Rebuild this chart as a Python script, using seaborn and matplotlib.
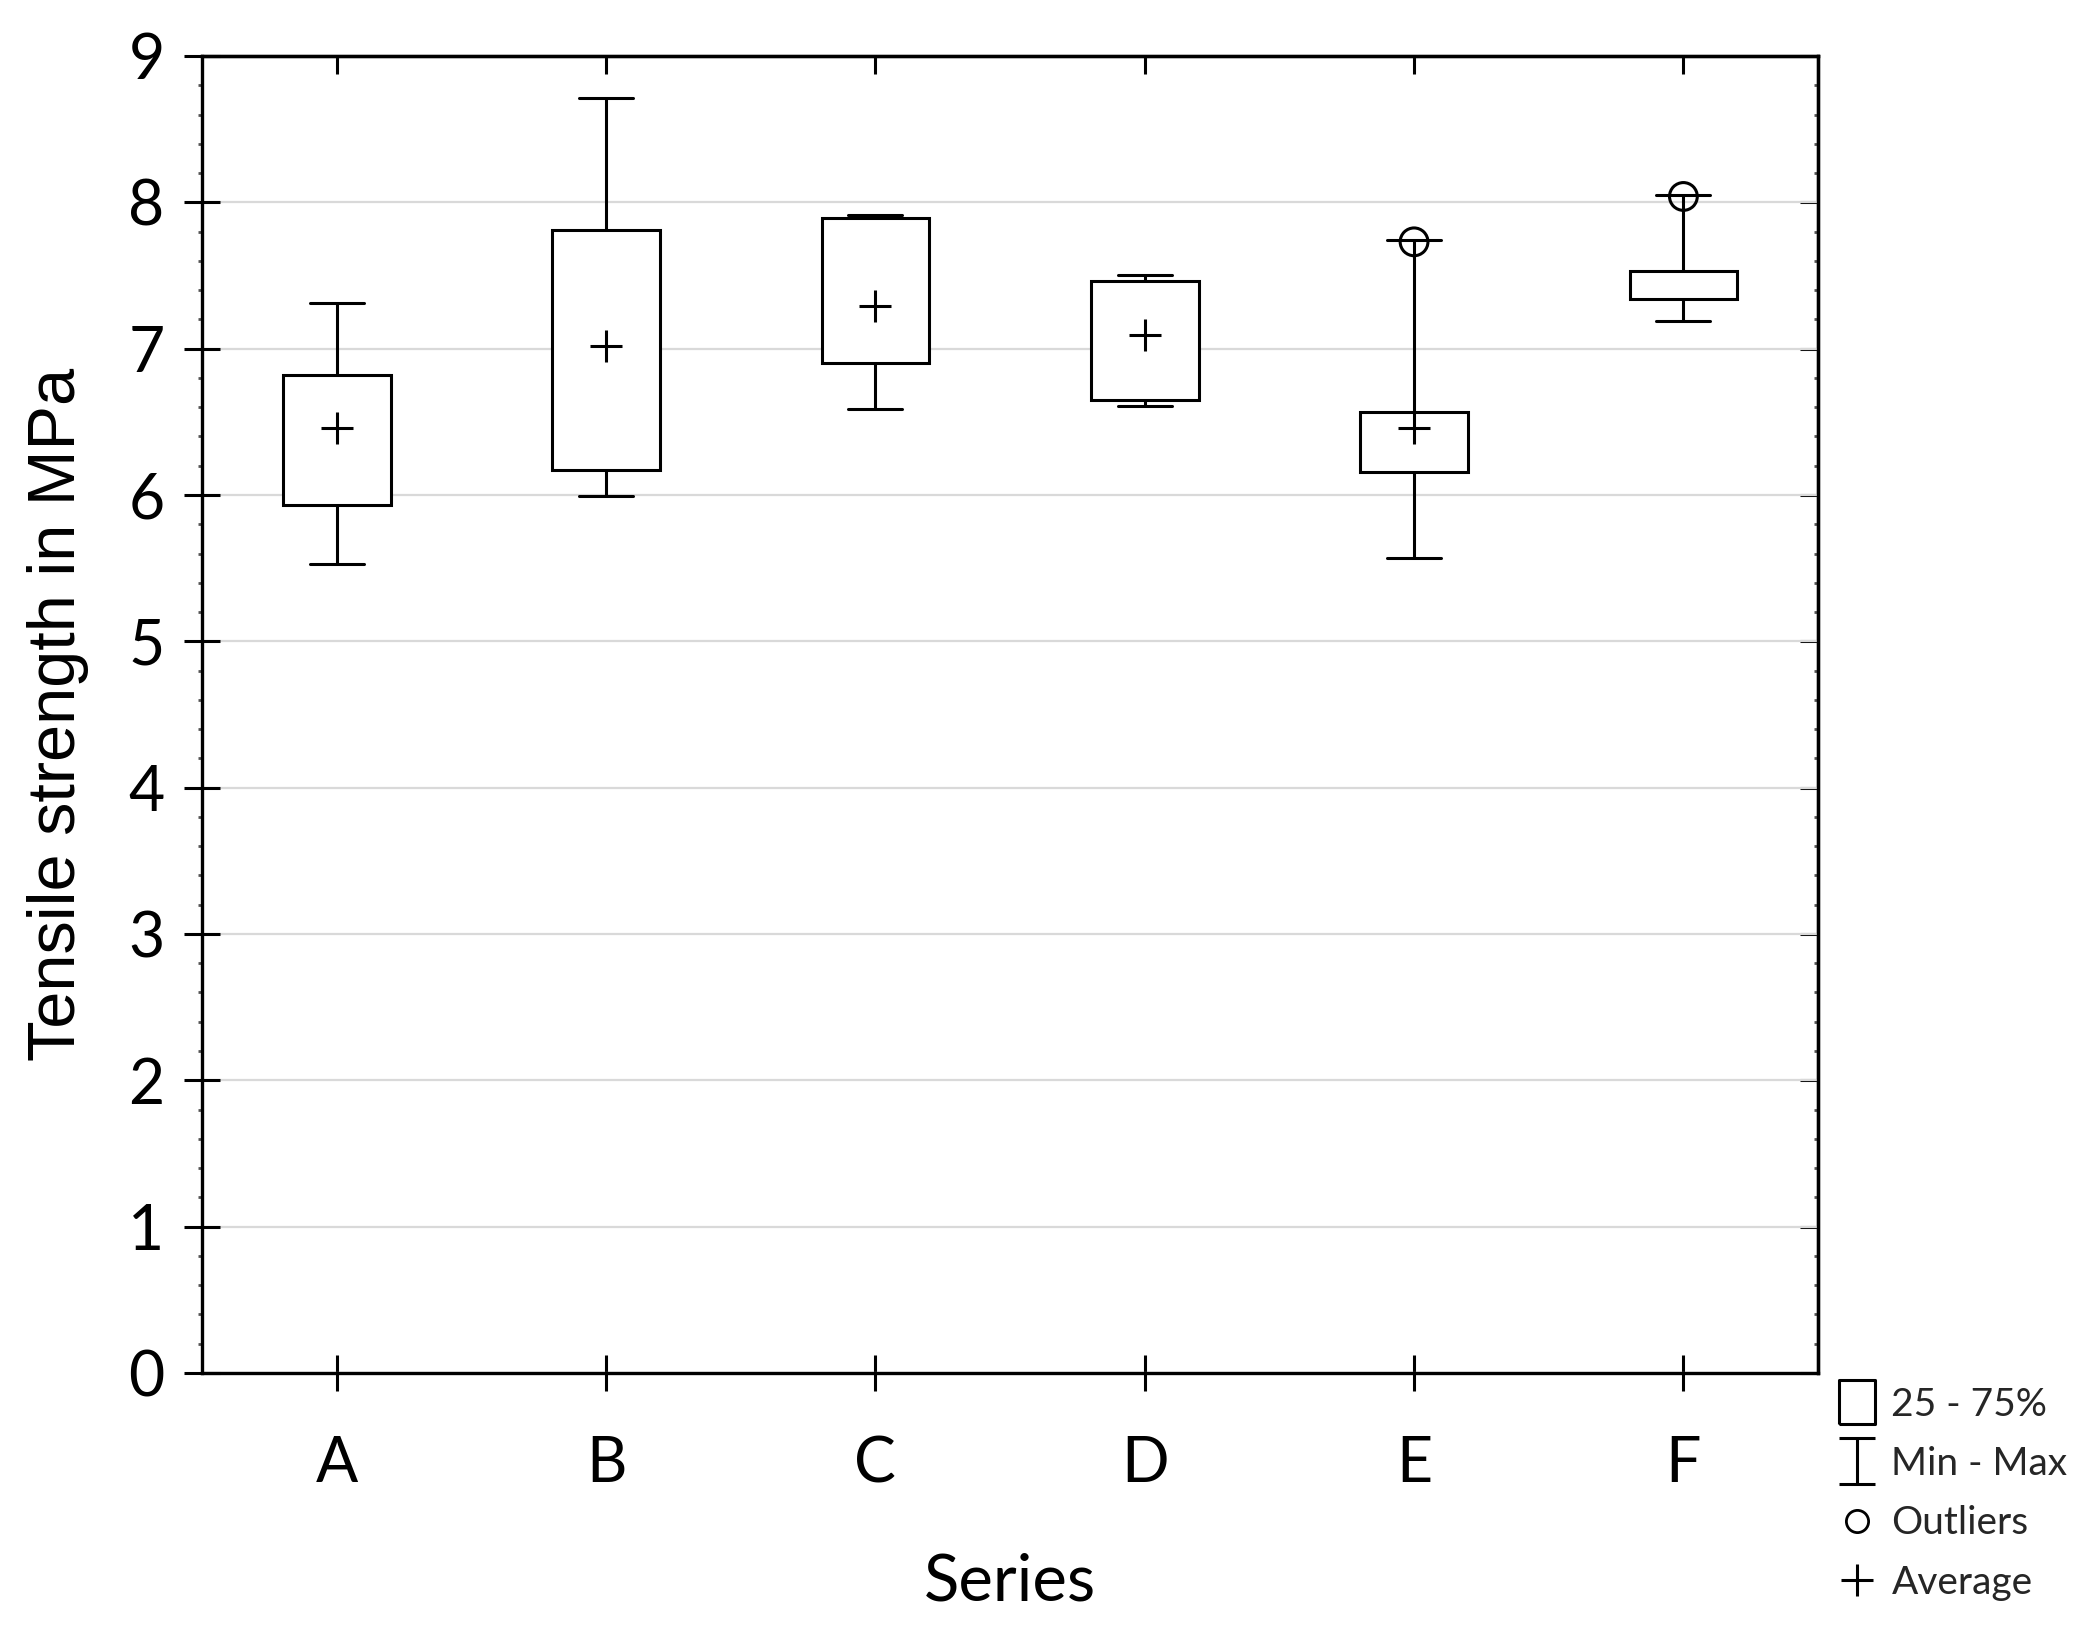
import numpy as np
import matplotlib
matplotlib.use("Agg")
import matplotlib.pyplot as plt
import seaborn as sns
from matplotlib.path import Path
from matplotlib.lines import Line2D
from matplotlib.ticker import MultipleLocator

sns.set_theme(style="ticks")
plt.rcParams['font.family'] = ['Lato', 'DejaVu Sans']

# summary values (MPa)
series = ['A', 'B', 'C', 'D', 'E', 'F']
q1 = [5.93, 6.17, 6.90, 6.65, 6.16, 7.34]
q3 = [6.82, 7.81, 7.89, 7.46, 6.57, 7.53]
mins = [5.53, 5.99, 6.59, 6.61, 5.57, 7.19]
maxs = [7.31, 8.71, 7.91, 7.50, 7.74, 8.05]
means = [6.46, 7.02, 7.29, 7.09, 6.46, np.nan]
outlier_series = [4, 5]
outlier_values = [7.73, 8.04]

pos = np.arange(len(series))
stats = []
for i, s in enumerate(series):
    stats.append(dict(label=s, q1=q1[i], q3=q3[i], med=q1[i],
                      whislo=mins[i], whishi=maxs[i], fliers=[]))

fig = plt.figure(figsize=(20.96, 16.47), dpi=100)
ax = fig.add_axes([0.0964, 0.1664, 0.771, 0.7996])

lw = 2.2
ax.bxp(stats, positions=pos, widths=0.4, capwidths=0.2, patch_artist=True,
       showfliers=False,
       boxprops=dict(facecolor='white', edgecolor='black', linewidth=lw),
       whiskerprops=dict(color='black', linewidth=lw),
       capprops=dict(color='black', linewidth=lw),
       medianprops=dict(linewidth=0))

sns.scatterplot(x=pos, y=means, marker='+', s=530, color='black',
                linewidth=2.2, ax=ax, zorder=5, legend=False)
sns.scatterplot(x=pos[outlier_series], y=outlier_values, marker='o', s=400,
                facecolors='none', edgecolor='black', linewidth=2.2,
                ax=ax, zorder=6, legend=False)

ax.set_xlim(-0.5, 5.5)
ax.set_ylim(0, 9)
ax.set_xticks(pos)
ax.set_xticklabels(series)
ax.yaxis.set_major_locator(MultipleLocator(1))
ax.yaxis.set_minor_locator(MultipleLocator(0.2))
ax.yaxis.grid(True, which='major', color='#d9d9d9', linewidth=1.6)
ax.set_axisbelow(True)

for sp in ax.spines.values():
    sp.set_linewidth(2.4)
    sp.set_color('black')

ax.tick_params(axis='both', which='major', direction='inout', length=26,
               width=2.2, color='black', labelsize=45, labelcolor='black')
ax.tick_params(axis='x', pad=32)
ax.tick_params(axis='y', pad=14)
ax.tick_params(axis='y', which='minor', direction='out', length=3,
               width=2.0, color='#555555')

top = ax.secondary_xaxis('top')
top.set_xticks(pos)
top.set_xticklabels([])
top.tick_params(direction='in', length=13, width=2.2, color='black')
right = ax.secondary_yaxis('right')
right.yaxis.set_major_locator(MultipleLocator(1))
right.yaxis.set_minor_locator(MultipleLocator(0.2))
right.set_yticklabels([])
right.tick_params(which='major', direction='in', length=13, width=2.2, color='black')
right.tick_params(which='minor', direction='in', length=3, width=2.0, color='#555555')
for a in (top, right):
    for sp in a.spines.values():
        sp.set_linewidth(2.4)

ax.set_xlabel('Series', fontsize=47, color='black')
ax.xaxis.set_label_coords(0.5, -0.136)
ax.set_ylabel('Tensile strength in MPa', fontsize=48, color='black',
              family=['Liberation Sans', 'DejaVu Sans'])
ax.yaxis.set_label_coords(-0.07, 0.5)

# legend
rect_marker = Path([(-0.4, -0.5), (0.4, -0.5), (0.4, 0.5), (-0.4, 0.5), (-0.4, -0.5)])
ibar_marker = Path([(-0.4, -0.5), (0.4, -0.5), (0, -0.5), (0, 0.5), (-0.4, 0.5), (0.4, 0.5)],
                   [Path.MOVETO, Path.LINETO, Path.MOVETO, Path.LINETO, Path.MOVETO, Path.LINETO])
handles = [
    Line2D([], [], linestyle='none', marker=rect_marker, markersize=32,
           markerfacecolor='white', markeredgecolor='black', markeredgewidth=2.2),
    Line2D([], [], linestyle='none', marker=ibar_marker, markersize=33,
           markeredgecolor='black', markeredgewidth=2.2),
    Line2D([], [], linestyle='none', marker='o', markersize=16,
           markerfacecolor='none', markeredgecolor='black', markeredgewidth=2.0),
    Line2D([], [], linestyle='none', marker='+', markersize=23,
           markeredgecolor='black', markeredgewidth=2.2),
]
labels = ['25 - 75%', 'Min - Max', 'Outliers', 'Average']
fig.legend(handles, labels, loc='upper left', bbox_to_anchor=(0.877, 0.158),
           frameon=False, fontsize=28, handlelength=0.97, handletextpad=0.4,
           labelspacing=0.6, borderaxespad=0, borderpad=0)

fig.savefig('out.png', dpi=100, facecolor='white')
